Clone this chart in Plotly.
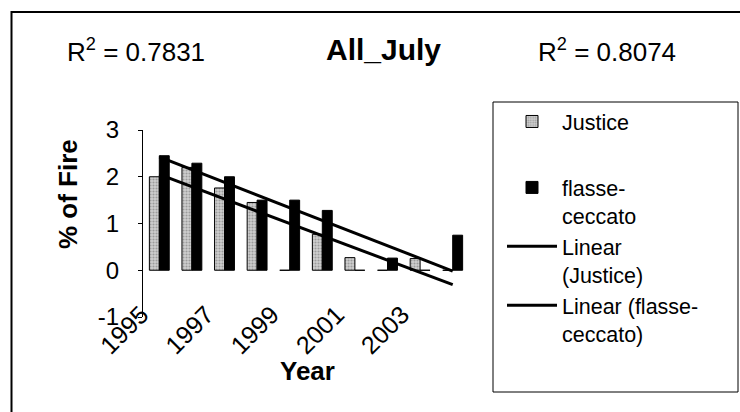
import numpy as np
import plotly.graph_objects as go

# ---- data ----
years = [1995, 1996, 1997, 1998, 1999, 2000, 2001, 2002, 2003, 2004]
justice = [2.0, 2.2, 1.76, 1.45, 0.0, 0.77, 0.27, 0.0, 0.25, 0.0]
flasse = [2.45, 2.29, 2.0, 1.5, 1.5, 1.28, 0.0, 0.26, 0.0, 0.75]
tick_years = [1995, 1997, 1999, 2001, 2003]
y_ticks = [-1, 0, 1, 2, 3]
y_tick_text = ["-1", "0", "1", "2", "3"]
r2_justice_label = "R<sup>2</sup> = 0.7831"
r2_flasse_label = "R<sup>2</sup> = 0.8074"
title_text = "All_July"
names = ["Justice", "flasse-<br>ceccato", "Linear<br>(Justice)", "Linear (flasse-<br>ceccato)"]

FONT = "Liberation Sans, Arial, sans-serif"

# ---- layout geometry (pixels) ----
W, H = 740, 412
L, R, T, B = 143, 740 - 469, 130, 95
pw, ph = W - L - R, H - T - B


def px(x):
    return (x - L) / pw


def py(y):
    return (H - B - y) / ph


# ---- trendlines from data ----
xs = np.array(years, dtype=float)
cj = np.polyfit(xs, np.array(justice), 1)
cf = np.polyfit(xs, np.array(flasse), 1)
tj = np.polyval(cj, xs)
tf = np.polyval(cf, xs)

fig = go.Figure()
fig.add_trace(go.Bar(
    x=years, y=justice, name=names[0], legendgroup="a",
    marker=dict(color="#6e6e6e", line=dict(color="black", width=1),
                pattern=dict(shape=".", bgcolor="#d0d0d0", fgcolor="#666666",
                             size=3, solidity=0.4)),
))
fig.add_trace(go.Bar(
    x=years, y=flasse, name=names[1], legendgroup="b",
    marker=dict(color="black", line=dict(color="black", width=1)),
))
fig.add_trace(go.Scatter(
    x=years, y=tj, mode="lines", name=names[2], legendgroup="b",
    line=dict(color="black", width=3),
))
fig.add_trace(go.Scatter(
    x=years, y=tf, mode="lines", name=names[3], legendgroup="b",
    line=dict(color="black", width=3),
))

axis_font = dict(family=FONT, size=25, color="black")


def label(text, x, y, size, bold=False, angle=0):
    f = dict(family=FONT, size=size, color="black")
    if bold:
        f["weight"] = "bold"
    return dict(text=text, x=px(x), y=py(y), xref="paper", yref="paper",
                xanchor="center", yanchor="middle", showarrow=False,
                textangle=angle, font=f)


fig.update_layout(
    width=W, height=H,
    margin=dict(l=L, r=R, t=T, b=B, pad=0),
    paper_bgcolor="white", plot_bgcolor="white",
    font=dict(family=FONT, color="black"),
    barmode="group", bargap=0.39, bargroupgap=0.0,
    showlegend=True,
    legend=dict(
        x=px(502), y=py(101), xanchor="left", yanchor="top",
        font=dict(family=FONT, size=21.5, color="black"),
        bgcolor="rgba(0,0,0,0)", borderwidth=0,
        valign="top", tracegroupgap=35, traceorder="grouped",
        itemwidth=50, maxheight=400,
    ),
    xaxis=dict(
        range=[1994.5, 2004.5], tickmode="array", tickvals=tick_years,
        ticktext=[str(t) for t in tick_years], tickangle=-45,
        showline=False, ticks="", showgrid=False, zeroline=False,
        tickfont=axis_font, ticklabelshift=-18, ticklabelstandoff=-23,
    ),
    xaxis2=dict(
        range=[1994.5, 2004.5], overlaying="x", anchor="free", position=0.25,
        tickmode="array", tickvals=[y + 0.5 for y in [1994] + years],
        ticks="outside", ticklen=5, tickcolor="black", tickwidth=1,
        showticklabels=False, showline=True, linecolor="black", linewidth=1,
        showgrid=False, zeroline=False,
    ),
    yaxis=dict(
        range=[-1, 3], tickmode="array", tickvals=y_ticks, ticktext=y_tick_text,
        ticks="outside", ticklen=4, tickcolor="black",
        showline=True, linecolor="black", linewidth=1,
        showgrid=False, zeroline=False, tickfont=dict(family=FONT, size=24, color="black"),
        ticklabelstandoff=14,
    ),
    annotations=[
        label(title_text, 383, 49, 30, bold=True),
        label(r2_justice_label, 136, 50, 26),
        label(r2_flasse_label, 607, 50, 26),
        label("% of Fire", 68, 194, 26, bold=True, angle=-90),
        label("Year", 307, 371, 26, bold=True),
    ],
    shapes=[
        dict(type="rect", xref="paper", yref="paper",
             x0=px(11.5), y0=py(430), x1=px(760), y1=py(12),
             line=dict(color="black", width=2), fillcolor="rgba(0,0,0,0)", layer="below"),
        dict(type="rect", xref="paper", yref="paper",
             x0=px(493), y0=py(392), x1=px(738), y1=py(102),
             line=dict(color="black", width=1), fillcolor="rgba(0,0,0,0)", layer="below"),
    ],
)

fig.write_html("out.html")
